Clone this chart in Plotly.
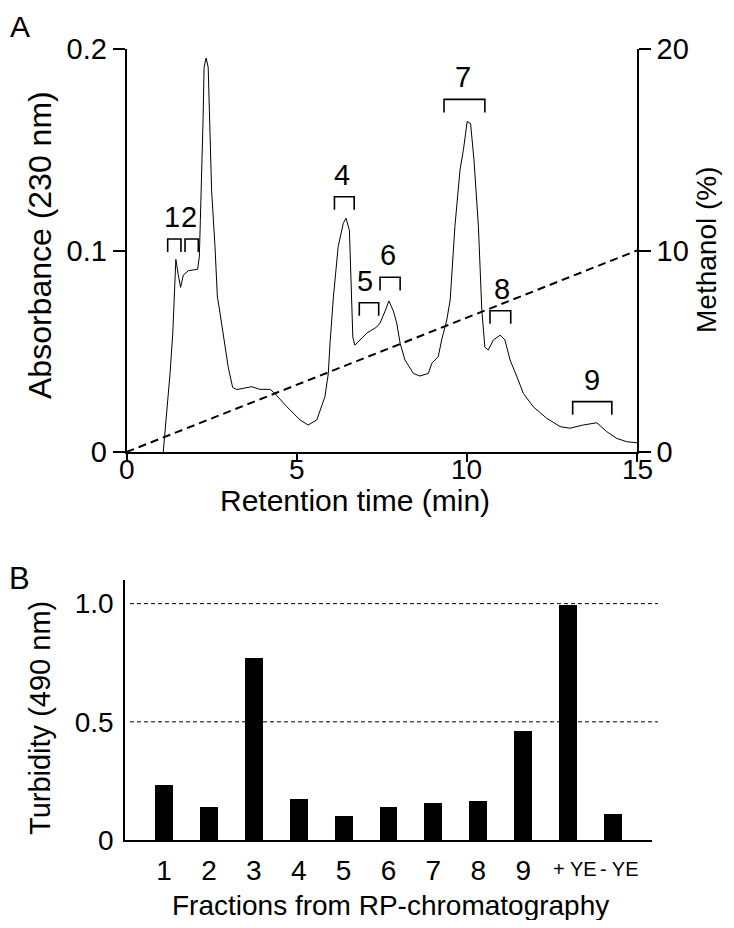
import plotly.graph_objects as go

# ---------------- Panel A data: chromatogram ----------------
ret_time = [1.08, 1.18, 1.28, 1.36, 1.43, 1.45, 1.52, 1.59, 1.67, 1.82, 2.09, 2.14, 2.17, 2.21, 2.25,
            2.28, 2.34, 2.40, 2.45, 2.50, 2.60, 2.67, 2.72, 2.89, 2.99, 3.12, 3.24, 3.43, 3.68, 3.92,
            4.22, 4.36, 4.71, 5.10, 5.34, 5.59, 5.83, 5.93, 5.98, 6.08, 6.22, 6.37, 6.45, 6.55, 6.59,
            6.65, 6.71, 6.86, 7.06, 7.35, 7.45, 7.60, 7.71, 7.84, 7.94, 8.04, 8.18, 8.43, 8.62, 8.87,
            8.97, 9.16, 9.26, 9.41, 9.51, 9.65, 9.80, 9.90, 10.01, 10.11, 10.21, 10.34, 10.44, 10.53,
            10.63, 10.78, 10.98, 11.12, 11.27, 11.47, 11.66, 11.95, 12.35, 12.74, 13.03, 13.42, 13.82,
            14.11, 14.40, 14.70, 15.0]
absorbance = [0.0, 0.019, 0.039, 0.059, 0.085, 0.0956, 0.088, 0.0817, 0.0878, 0.090, 0.0907, 0.0969,
              0.115, 0.135, 0.165, 0.191, 0.1955, 0.191, 0.158, 0.130, 0.102, 0.077, 0.072, 0.052,
              0.042, 0.032, 0.031, 0.0316, 0.0324, 0.0311, 0.0311, 0.029, 0.0225, 0.0159, 0.0134,
              0.0159, 0.0274, 0.039, 0.054, 0.077, 0.102, 0.1135, 0.116, 0.110, 0.085, 0.057, 0.053,
              0.0556, 0.059, 0.062, 0.064, 0.070, 0.075, 0.070, 0.064, 0.054, 0.0457, 0.039, 0.0377,
              0.039, 0.044, 0.0473, 0.0556, 0.0655, 0.0754, 0.112, 0.140, 0.150, 0.164, 0.163, 0.145,
              0.112, 0.0705, 0.052, 0.0506, 0.0556, 0.058, 0.0556, 0.0457, 0.0374, 0.0291, 0.0225,
              0.0167, 0.0126, 0.0118, 0.0134, 0.0145, 0.0101, 0.0068, 0.0051, 0.0046]

gradient_time = [0, 15]
gradient_methanol = [0, 10]

time_ticks = [0, 5, 10, 15]
time_tick_text = ["0", "5", "10", "15"]

# fraction collection windows (min) and bracket heights (absorbance)
frac_labels = ["1", "2", "3", "4", "5", "6", "7", "8", "9"]
frac_start = [1.21, 1.72, 2.16, 6.11, 6.84, 7.45, 9.33, 10.68, 13.11]
frac_end = [1.60, 2.11, 2.55, 6.69, 7.41, 8.04, 10.53, 11.29, 14.26]
frac_top = [0.1057, 0.1057, 0.207, 0.1267, 0.0741, 0.0867, 0.175, 0.0701, 0.025]
frac_label_x = [1.33, 1.85, 2.36, 6.32, 7.01, 7.69, 9.90, 11.03, 13.67]

# ---------------- Panel B data: turbidity ----------------
fraction_pos = [1, 2, 3, 4, 5, 6, 7, 8, 9, 10, 11]
fraction_names = ["1", "2", "3", "4", "5", "6", "7", "8", "9", "+ YE", "- YE"]
turbidity = [0.232, 0.140, 0.77, 0.172, 0.102, 0.138, 0.155, 0.165, 0.46, 0.995, 0.112]

# The page body has an 8px margin: the figure is sized to fit the 734x928 window
OFF = 8
W, H = 734 - 2 * OFF, 928 - 2 * OFF
FONT = "Arial, Liberation Sans, sans-serif"


def px(x):
    return (x - OFF) / W


def py(y):
    return 1 - (y - OFF) / H


def label(x, y, text, size, angle=0):
    return dict(x=px(x), y=py(y), xref="paper", yref="paper", text=text, showarrow=False,
                xanchor="center", yanchor="middle", textangle=angle,
                font=dict(family=FONT, size=size, color="black"))


fig = go.Figure()

fig.add_trace(go.Scatter(x=ret_time, y=absorbance, mode="lines",
                         line=dict(color="black", width=1), xaxis="x", yaxis="y",
                         showlegend=False, hoverinfo="skip"))
fig.add_trace(go.Scatter(x=gradient_time, y=gradient_methanol, mode="lines",
                         line=dict(color="black", width=2, dash="8px,5px"), xaxis="x", yaxis="y2",
                         showlegend=False, hoverinfo="skip"))
fig.add_trace(go.Bar(x=fraction_pos, y=turbidity, width=0.4, marker=dict(color="black", line=dict(width=0)),
                     xaxis="x3", yaxis="y3", showlegend=False, hoverinfo="skip"))

shapes = []
annotations = []
leg = 0.0065
for lab, s, e, top, lx in zip(frac_labels, frac_start, frac_end, frac_top, frac_label_x):
    shapes.append(dict(type="path", xref="x", yref="y",
                       path=f"M {s},{top - leg} L {s},{top} L {e},{top} L {e},{top - leg}",
                       line=dict(color="black", width=1.6)))
    annotations.append(dict(x=lx, y=top + 0.002, xref="x", yref="y", text=lab, showarrow=False,
                            xanchor="center", yanchor="bottom",
                            font=dict(family=FONT, size=29, color="black")))

for yv in [0.5, 1.0]:
    shapes.append(dict(type="line", xref="paper", yref="y3", x0=px(130), x1=px(658), y0=yv, y1=yv,
                       line=dict(color="black", width=1, dash="4px,3px")))

# x tick labels of the chromatogram, placed tight under the ticks
for tv, tt in zip(time_ticks, time_tick_text):
    annotations.append(dict(x=tv, y=py(469), xref="x", yref="paper", text=tt, showarrow=False,
                            xanchor="center", yanchor="middle",
                            font=dict(family=FONT, size=28, color="black")))

# Panel letters and axis titles
annotations += [
    label(20, 26, "A", 30),
    label(19, 578, "B", 31),
    label(40, 245, "Absorbance (230 nm)", 32, -90),
    label(706, 250, "Methanol (%)", 28, -90),
    label(355, 500, "Retention time (min)", 30),
    label(40, 718, "Turbidity (490 nm)", 29, -90),
    label(390, 905, "Fractions from RP-chromatography", 28),
]

for xv, name in zip(fraction_pos[9:], fraction_names[9:]):
    annotations.append(dict(x=xv + 0.15, y=py(869), xref="x3", yref="paper", text=name, showarrow=False,
                            xanchor="center", yanchor="middle",
                            font=dict(family=FONT, size=20, color="black")))

axis_common = dict(showgrid=False, zeroline=False, showline=True, linecolor="black", color="black")

fig.update_layout(
    width=W, height=H, margin=dict(l=0, r=0, t=0, b=0),
    paper_bgcolor="white", plot_bgcolor="white",
    template="none", showlegend=False, bargap=0,
    xaxis=dict(domain=[px(126.5), px(637)], range=[0, 15], anchor="y", linewidth=1.6,
               ticks="outside", ticklen=8, tickwidth=1.6, tickcolor="black",
               tickvals=time_ticks, showticklabels=False, **axis_common),
    yaxis=dict(domain=[py(452), py(49)], range=[0, 0.2], anchor="x", linewidth=1.6,
               ticks="outside", ticklen=12, tickwidth=1.6, tickcolor="black",
               tickvals=[0, 0.1, 0.2], ticktext=["0", "0.1", "0.2"],
               tickfont=dict(family=FONT, size=29, color="black"), **axis_common),
    yaxis2=dict(domain=[py(452), py(49)], range=[0, 20], anchor="x", overlaying="y", side="right",
                linewidth=1.6, ticks="outside", ticklen=12, tickwidth=1.6, tickcolor="black",
                tickvals=[0, 10, 20], ticktext=["0", "10", "20"],
                tickfont=dict(family=FONT, size=29, color="black"), **axis_common),
    xaxis3=dict(domain=[px(125), px(652)], range=[0.13, 11.87], anchor="y3", linewidth=1.6,
                ticks="", tickvals=fraction_pos[:9], ticktext=fraction_names[:9], ticklabelstandoff=5,
                tickfont=dict(family=FONT, size=28, color="black"), **axis_common),
    yaxis3=dict(domain=[py(840), py(580)], range=[0, 1.1], anchor="x3", linewidth=1.6,
                ticks="", tickvals=[0, 0.5, 1.0], ticktext=["0", "0.5", "1.0"], ticklabelstandoff=4,
                tickfont=dict(family=FONT, size=28, color="black"), **axis_common),
    shapes=shapes,
    annotations=annotations,
)

fig.write_html("out.html")
